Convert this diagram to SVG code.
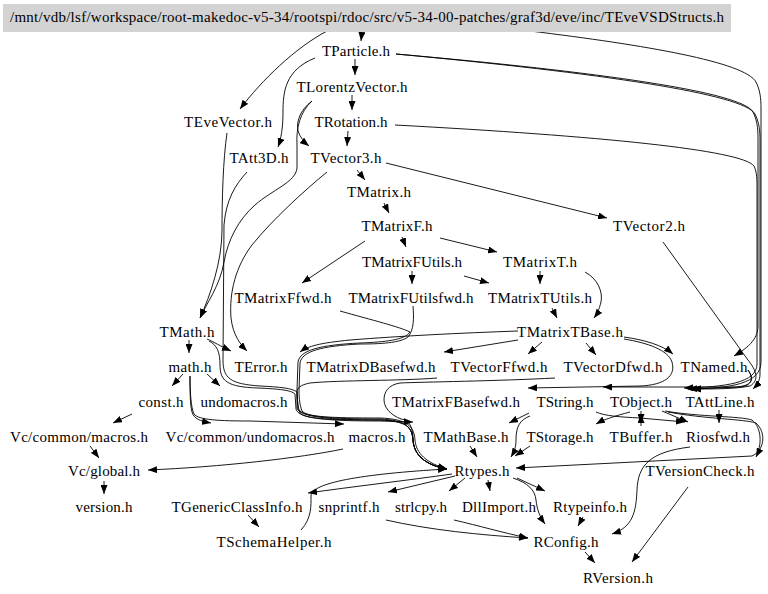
<svg xmlns="http://www.w3.org/2000/svg" width="768" height="594" viewBox="0 0 768 594">
<style>
text{font-family:"Liberation Serif","Times New Roman",serif;font-size:15px;text-anchor:middle;fill:#000}
.e{fill:none;stroke:#000;stroke-width:0.9;marker-end:url(#ah)}
</style>
<defs>
<marker id="ah" markerWidth="9" markerHeight="7" refX="9" refY="3.5" orient="auto" markerUnits="userSpaceOnUse"><path d="M0,0 L9,3.5 L0,7 z" fill="#000"/></marker>
</defs>
<rect width="768" height="594" fill="#fff"/>
<g id="edges">
<path class="e" d="M362,31 L361,41"/>
<path class="e" d="M327,31 C295,48 262,80 240,109"/>
<path class="e" d="M530,31 C645,45 745,62 756,82 C760,90 761,98 761,108 L761,362 C761,384 730,388 692,389"/>
<path class="e" d="M355,59 L355,75"/>
<path class="e" d="M315,58 C285,70 283,92 283,112 C283,128 281,139 278,147"/>
<path class="e" d="M396,54 C600,72 742,92 753,112 C757,120 758,128 758,138 L758,326 C758,340 746,349 734,356"/>
<path class="e" d="M396,54 C600,73 744,94 755,114 C759,122 760,130 760,140 L760,374 C760,381 757,385 753,389"/>
<path class="e" d="M352,95 L352,110"/>
<path class="e" d="M312,101 C300,110 296,122 298,131 C300,137 304,142 309,146"/>
<path class="e" d="M312,101 C300,112 296,128 297,145 L297,168 C296,182 272,190 255,205 C238,220 228,240 224,262 C220,286 206,304 200,318"/>
<path class="e" d="M227,133 C223,160 222,200 222,230 C222,262 210,296 200,318"/>
<path class="e" d="M247,172 C235,185 226,200 224,225 L223,360 C223,378 230,384 260,386 C280,387 292,388 297,392 L298,408 C300,417 330,419 380,419 C405,420 412,426 413,440 C414,455 425,465 447,469"/>
<path class="e" d="M348,131 L347,146"/>
<path class="e" d="M395,125 C600,136 742,150 754,166 C757,172 757,180 757,190 L757,364 C757,383 725,387 684,388"/>
<path class="e" d="M357,170 L365,180"/>
<path class="e" d="M386,163 L607,218"/>
<path class="e" d="M327,172 C305,190 272,220 252,245 C236,266 229,292 231,318 C233,335 240,344 247,351"/>
<path class="e" d="M384,203 L389,213"/>
<path class="e" d="M402,237 L406,247"/>
<path class="e" d="M440,238 L497,252"/>
<path class="e" d="M365,241 L302,283"/>
<path class="e" d="M412,271 L412,284"/>
<path class="e" d="M464,276 L489,283"/>
<path class="e" d="M540,271 L540,284"/>
<path class="e" d="M585,272 C598,279 603,292 601,302 C599,310 597,314 594,318"/>
<path class="e" d="M552,308 L557,318"/>
<path class="e" d="M663,242 L748,360 C756,370 760,380 750,386 C735,389 715,389 692,389"/>
<path class="e" d="M189,340 L189,353"/>
<path class="e" d="M207,339 C214,342 220,346 231,351"/>
<path class="e" d="M209,341 C217,345 220,352 220,365 C220,381 227,387 258,388 C279,389 291,390 295,394 L296,409 C298,419 330,421 380,421 L413,422"/>
<path class="e" d="M183,374 L172,386"/>
<path class="e" d="M207,374 L220,386"/>
<path class="e" d="M190,376 C190,390 190,405 192,412 C194,419 200,421 211,423"/>
<path class="e" d="M190,376 C190,392 191,408 194,414 C198,420 220,421 250,421 L344,424"/>
<path class="e" d="M132,414 L113,423"/>
<path class="e" d="M90,446 L99,458"/>
<path class="e" d="M343,449 C300,458 220,467 148,470"/>
<path class="e" d="M104,481 L104,494"/>
<path class="e" d="M248,515 L259,527"/>
<path class="e" d="M301,530 C312,518 311,505 311,496 C311,483 360,474 447,469"/>
<path class="e" d="M452,474 C410,480 350,487 308,493"/>
<path class="e" d="M455,476 L388,492"/>
<path class="e" d="M465,478 L449,491"/>
<path class="e" d="M488,480 L490,491"/>
<path class="e" d="M517,478 L545,491"/>
<path class="e" d="M513,478 C528,483 535,490 536,500 C537,510 540,517 545,524"/>
<path class="e" d="M583,517 L578,526"/>
<path class="e" d="M386,520 C430,530 480,535 528,538"/>
<path class="e" d="M454,520 C480,526 500,532 528,538"/>
<path class="e" d="M585,552 L595,563"/>
<path class="e" d="M688,487 L632,562"/>
<path class="e" d="M470,446 L477,457"/>
<path class="e" d="M530,446 L515,456"/>
<path class="e" d="M530,416 C520,420 516,426 516,440 C516,448 514,452 511,457"/>
<path class="e" d="M529,413 L509,423"/>
<path class="e" d="M641,411 L641,423"/>
<path class="e" d="M641,426 L641,414"/>
<path class="e" d="M630,412 C615,416 605,419 596,424"/>
<path class="e" d="M596,412 C605,416 620,417 640,418 L685,422"/>
<path class="e" d="M662,411 L688,422"/>
<path class="e" d="M665,411 C700,417 740,416 752,420 C762,428 762,445 756,457"/>
<path class="e" d="M668,412 C705,419 744,419 756,423 C767,433 764,451 752,456 L516,468"/>
<path class="e" d="M690,447 C650,452 638,465 637,490 C636,512 633,527 612,534"/>
<path class="e" d="M719,410 L719,423"/>
<path class="e" d="M748,370 C755,380 752,386 735,387 L603,387"/>
<path class="e" d="M748,370 C754,378 752,386 740,387 L688,389"/>
<path class="e" d="M624,337 C645,340 662,345 673,354"/>
<path class="e" d="M624,339 C648,343 668,350 672,362 C676,376 665,385 640,386 L528,388"/>
<path class="e" d="M518,340 L444,352"/>
<path class="e" d="M542,342 L528,354"/>
<path class="e" d="M586,343 L596,355"/>
<path class="e" d="M518,331 C460,333 400,336 350,340 C320,343 308,346 300,352"/>
<path class="e" d="M340,311 C372,320 400,327 410,332 C405,340 385,342 360,343 C320,345 300,350 298,362 L297,390 C297,400 298,408 300,413 C305,419 330,420 380,420 C405,421 412,426 413,440 C414,455 425,465 447,469"/>
<path class="e" d="M413,306 C414,318 414,330 408,337 C400,343 380,344 360,344 C322,346 302,351 300,363 L299,390 C299,399 300,406 302,411 C307,417 330,418 380,418 C407,419 414,426 415,440 C416,453 426,463 447,469"/>
<path class="e" d="M437,378 C400,381 340,380 310,383 C300,385 297,388 297,392 L297,408 C299,417 330,420 380,420 C405,421 412,426 413,440 C414,455 425,465 447,469"/>
<path class="e" d="M555,378 C500,381 420,382 400,383 C388,385 384,392 384,400 C384,410 395,418 405,420 C411,423 413,430 413,440 C414,455 425,465 447,469"/>
</g>
<g id="n0"><rect x="3" y="4" width="728" height="28" fill="#d3d3d3"/><text x="367" y="22" textLength="714">/mnt/vdb/lsf/workspace/root-makedoc-v5-34/rootspi/rdoc/src/v5-34-00-patches/graf3d/eve/inc/TEveVSDStructs.h</text></g>
<g id="n_TParticle"><text x="356" y="56" textLength="68">TParticle.h</text></g>
<g id="n_TLorentzVector"><text x="352" y="92" textLength="111">TLorentzVector.h</text></g>
<g id="n_TEveVector"><text x="228" y="127" textLength="88">TEveVector.h</text></g>
<g id="n_TRotation"><text x="351" y="127" textLength="73">TRotation.h</text></g>
<g id="n_TAtt3D"><text x="259" y="163" textLength="59">TAtt3D.h</text></g>
<g id="n_TVector3"><text x="346" y="163" textLength="71">TVector3.h</text></g>
<g id="n_TMatrix"><text x="379" y="197" textLength="64">TMatrix.h</text></g>
<g id="n_TMatrixF"><text x="397" y="231" textLength="71">TMatrixF.h</text></g>
<g id="n_TVector2"><text x="649" y="231" textLength="72">TVector2.h</text></g>
<g id="n_TMatrixFUtils"><text x="412" y="267" textLength="100">TMatrixFUtils.h</text></g>
<g id="n_TMatrixT"><text x="540" y="267" textLength="74">TMatrixT.h</text></g>
<g id="n_TMatrixFfwd"><text x="283" y="303" textLength="97">TMatrixFfwd.h</text></g>
<g id="n_TMatrixFUtilsfwd"><text x="411" y="303" textLength="125">TMatrixFUtilsfwd.h</text></g>
<g id="n_TMatrixTUtils"><text x="540" y="303" textLength="104">TMatrixTUtils.h</text></g>
<g id="n_TMath"><text x="187" y="337" textLength="55">TMath.h</text></g>
<g id="n_TMatrixTBase"><text x="570" y="337" textLength="106">TMatrixTBase.h</text></g>
<g id="n_math"><text x="190" y="372" textLength="43">math.h</text></g>
<g id="n_TError"><text x="261" y="372" textLength="53">TError.h</text></g>
<g id="n_TMatrixDBasefwd"><text x="371" y="372" textLength="129">TMatrixDBasefwd.h</text></g>
<g id="n_TVectorFfwd"><text x="499" y="372" textLength="97">TVectorFfwd.h</text></g>
<g id="n_TVectorDfwd"><text x="613" y="372" textLength="99">TVectorDfwd.h</text></g>
<g id="n_TNamed"><text x="714" y="372" textLength="67">TNamed.h</text></g>
<g id="n_const"><text x="161" y="407" textLength="45">const.h</text></g>
<g id="n_undomacros"><text x="244" y="407" textLength="87">undomacros.h</text></g>
<g id="n_TMatrixFBasefwd"><text x="456" y="407" textLength="128">TMatrixFBasefwd.h</text></g>
<g id="n_TString"><text x="565" y="407" textLength="57">TString.h</text></g>
<g id="n_TObject"><text x="641" y="407" textLength="62">TObject.h</text></g>
<g id="n_TAttLine"><text x="720" y="407" textLength="69">TAttLine.h</text></g>
<g id="n_VcMacros"><text x="79" y="442" textLength="138">Vc/common/macros.h</text></g>
<g id="n_VcUndomacros"><text x="250" y="442" textLength="169">Vc/common/undomacros.h</text></g>
<g id="n_macros"><text x="377" y="442" textLength="57">macros.h</text></g>
<g id="n_TMathBase"><text x="466" y="442" textLength="85">TMathBase.h</text></g>
<g id="n_TStorage"><text x="560" y="442" textLength="67">TStorage.h</text></g>
<g id="n_TBuffer"><text x="641" y="442" textLength="63">TBuffer.h</text></g>
<g id="n_Riosfwd"><text x="718" y="442" textLength="64">Riosfwd.h</text></g>
<g id="n_VcGlobal"><text x="104" y="476" textLength="72">Vc/global.h</text></g>
<g id="n_Rtypes"><text x="482" y="476" textLength="55">Rtypes.h</text></g>
<g id="n_TVersionCheck"><text x="700" y="476" textLength="109">TVersionCheck.h</text></g>
<g id="n_version"><text x="104" y="512" textLength="57">version.h</text></g>
<g id="n_TGenericClassInfo"><text x="237" y="512" textLength="131">TGenericClassInfo.h</text></g>
<g id="n_snprintf"><text x="349" y="512" textLength="61">snprintf.h</text></g>
<g id="n_strlcpy"><text x="421" y="512" textLength="52">strlcpy.h</text></g>
<g id="n_DllImport"><text x="499" y="512" textLength="74">DllImport.h</text></g>
<g id="n_Rtypeinfo"><text x="590" y="512" textLength="74">Rtypeinfo.h</text></g>
<g id="n_TSchemaHelper"><text x="274" y="547" textLength="115">TSchemaHelper.h</text></g>
<g id="n_RConfig"><text x="566" y="547" textLength="65">RConfig.h</text></g>
<g id="n_RVersion"><text x="618" y="583" textLength="70">RVersion.h</text></g>
</svg>
